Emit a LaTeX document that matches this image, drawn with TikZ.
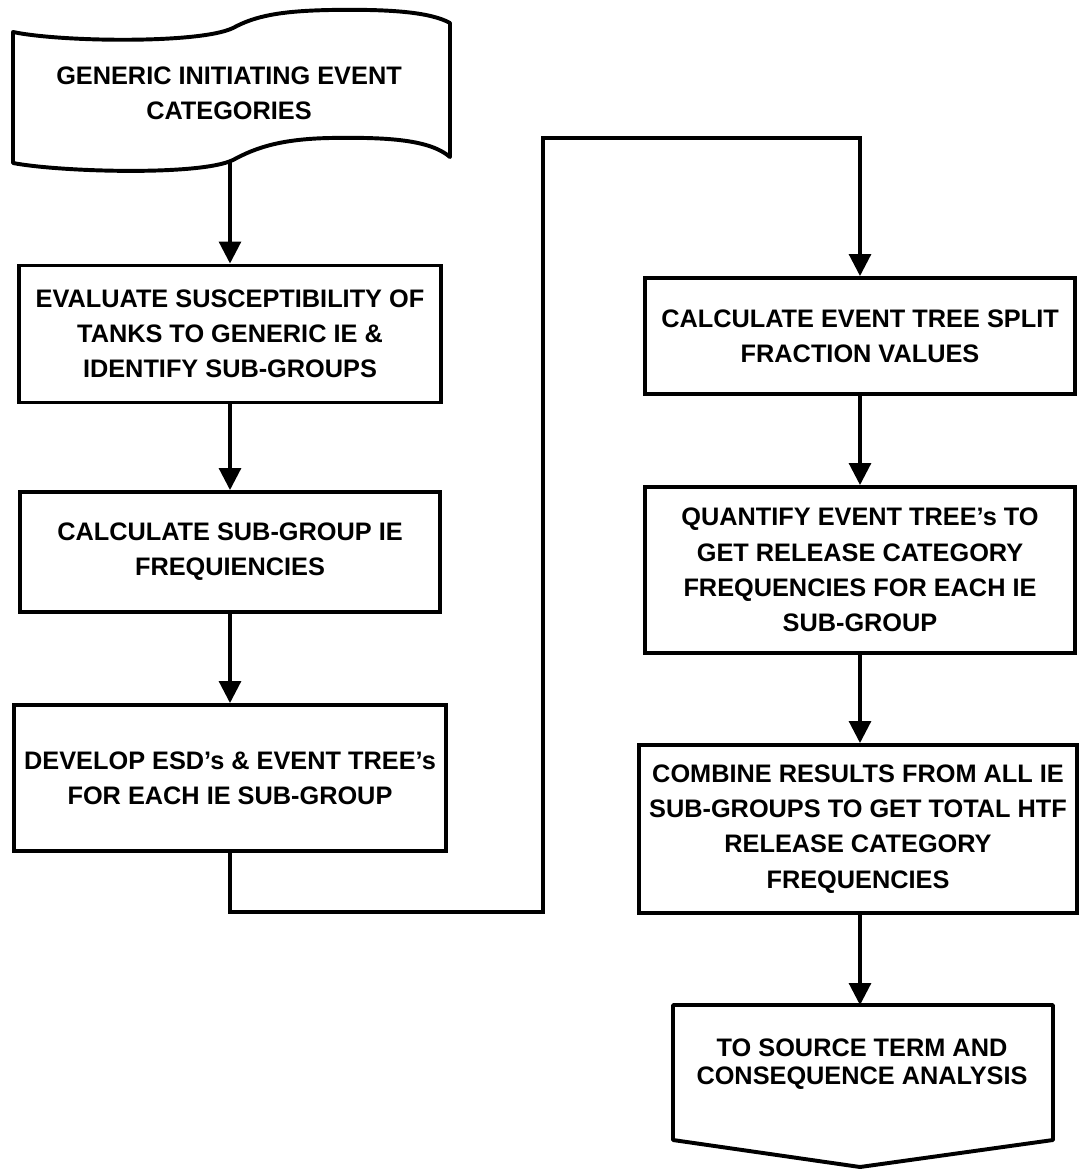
\documentclass[tikz,border=0pt]{standalone}
\usepackage{fontspec}
\setmainfont{Liberation Sans}
\usepackage{tikz}
\usetikzlibrary{arrows.meta}
\usetikzlibrary{positioning}

\tikzset{
  procbox/.style={draw, line width=2.8pt, align=center, inner sep=0pt,
    font=\bfseries\fontsize{18}{25}\selectfont},
  boxtext/.style={align=center, inner sep=0pt,
    font=\bfseries\fontsize{18}{25}\selectfont},
  flow/.style={line width=2.2pt, -{Triangle[width=0.55cm,length=0.55cm]}},
  outline/.style={line width=2.8pt, line join=round}
}

\begin{document}
\begin{tikzpicture}[x=0.025cm, y=-0.025cm]
\useasboundingbox (0,0) rectangle (1079,1169);

% left column
\node[boxtext] (gen) at (229,93) {GENERIC INITIATING EVENT\\CATEGORIES};
\draw[outline] (13,32) -- (13,163)
  .. controls (60,172) and (200,176) .. (233,160)
  .. controls (255,148) and (280,139) .. (330,138)
  .. controls (390,137) and (430,140) .. (450,157)
  -- (450,23)
  .. controls (430,12) and (390,9) .. (330,10)
  .. controls (280,11) and (255,16) .. (233,28)
  .. controls (200,44) and (60,42) .. (13,32) -- cycle;
\coordinate (genout) at (230,161);

\node[procbox, minimum width=10.55cm, minimum height=3.425cm] (eval) at (230,334)
  {EVALUATE SUSCEPTIBILITY OF\\TANKS TO GENERIC IE \&\\IDENTIFY SUB-GROUPS};
\node[procbox, minimum width=10.5cm, minimum height=3cm] (calc) at (230,552)
  {CALCULATE SUB-GROUP IE\\FREQUIENCIES};
\node[procbox, minimum width=10.8cm, minimum height=3.65cm] (dev) at (230,778)
  {DEVELOP ESD's \& EVENT TREE's\\FOR EACH IE SUB-GROUP};

% right column
\node[procbox, minimum width=10.75cm, minimum height=2.9cm] (split) at (860,336)
  {CALCULATE EVENT TREE SPLIT\\FRACTION VALUES};
\node[procbox, minimum width=10.75cm, minimum height=4.15cm] (quant) at (860,570)
  {QUANTIFY EVENT TREE's TO\\GET RELEASE CATEGORY\\FREQUENCIES FOR EACH IE\\SUB-GROUP};
\node[procbox, minimum width=10.95cm, minimum height=4.2cm] (comb) at (858,829)
  {COMBINE RESULTS FROM ALL IE\\SUB-GROUPS TO GET TOTAL HTF\\RELEASE CATEGORY\\FREQUENCIES};

\node[boxtext, font=\bfseries\fontsize{18}{20}\selectfont] (out) at (862,1064)
  {TO SOURCE TERM AND\\CONSEQUENCE ANALYSIS};
\draw[outline] (673,1005) -- (1053,1005) -- (1053,1140) -- (860,1167) -- (673,1140) -- cycle;
\coordinate (outtop) at (860,1005);

% connectors
\coordinate (low) at (543,912);
\coordinate (high) at (543,138);
\draw[flow] (genout) -- (genout |- eval.north);
\draw[flow] (eval.south) -- (calc.north);
\draw[flow] (calc.south) -- (dev.north);
\draw[flow, line join=miter] (dev.south) |- (low) -- (high) -| (split.north);
\draw[flow] (split.south) -- (quant.north);
\draw[flow] (quant.south) -- (quant.south |- comb.north);
\draw[flow] (comb.south -| outtop) -- (outtop);

\end{tikzpicture}
\end{document}
